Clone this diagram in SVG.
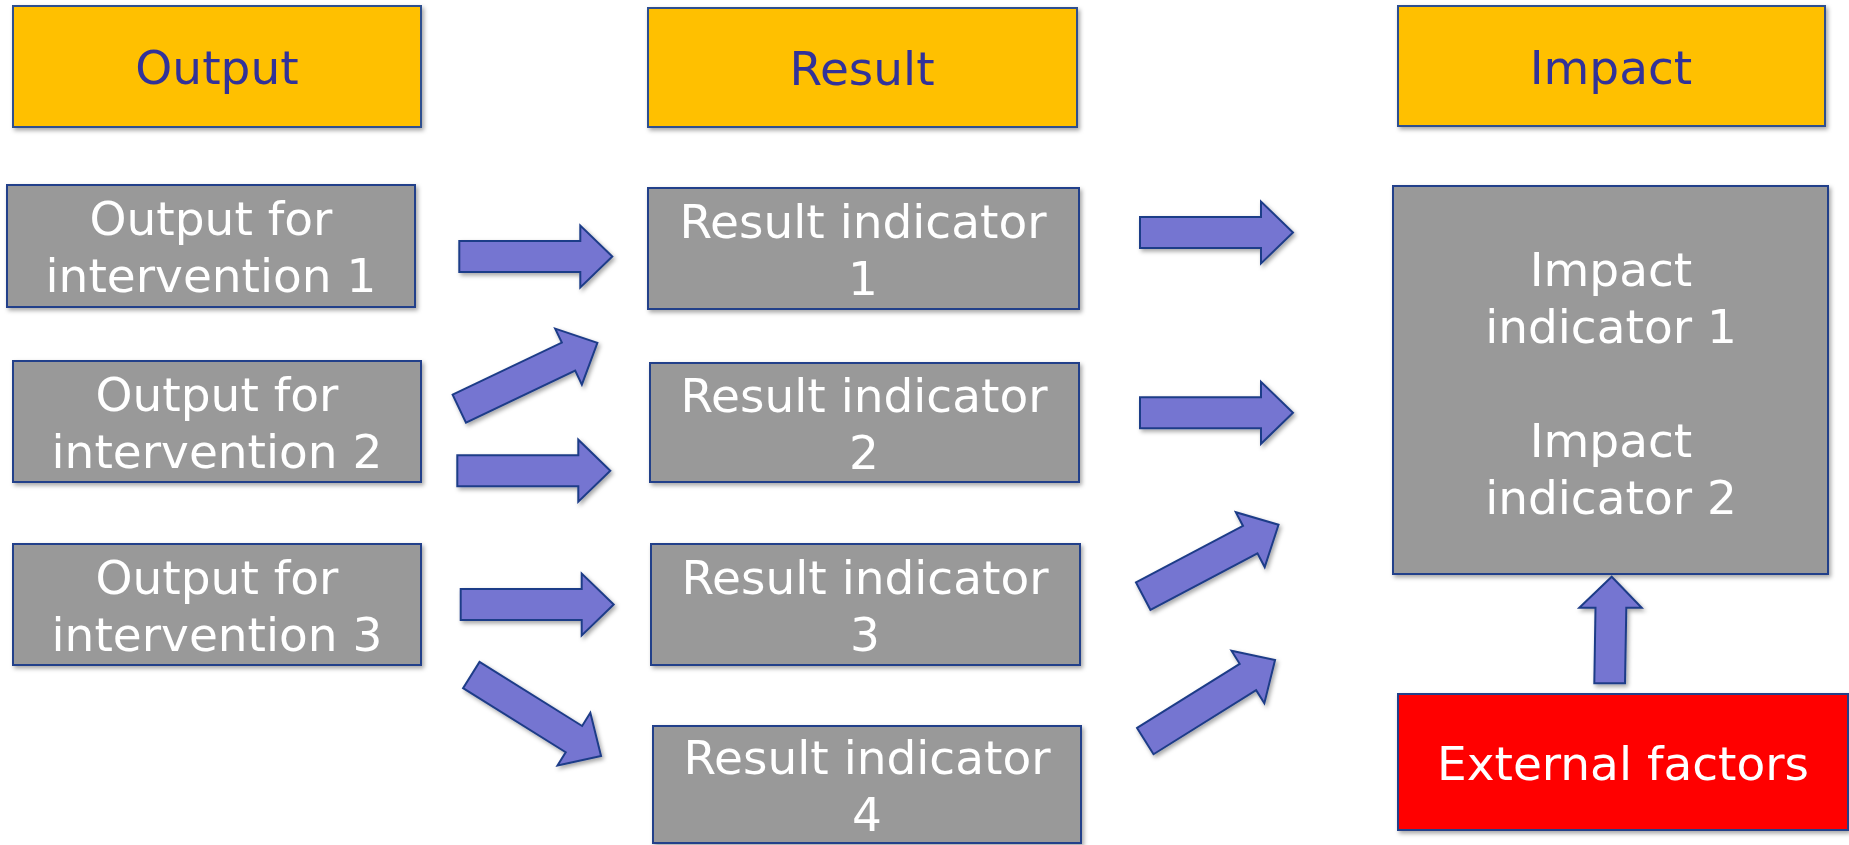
<svg xmlns="http://www.w3.org/2000/svg" width="1849" height="845" viewBox="0 0 1849 845">
<style>
  text { font-family: "DejaVu Sans", Verdana, sans-serif; font-size: 47px; text-anchor: middle; }
  .hdr rect { fill: #FFC000; stroke: #2F4F8F; stroke-width: 2; }
  .hdr text { fill: #333399; }
  .box rect { fill: #999999; stroke: #203F8A; stroke-width: 2; }
  .box text { fill: #FFFFFF; }
  .ext rect { fill: #FF0000; stroke: #203F8A; stroke-width: 2; }
  .ext text { fill: #FFFFFF; }
  .arrow { fill: #7575D1; stroke: #1F3C88; stroke-width: 2; stroke-linejoin: miter; }
</style>
<defs>
  <filter id="sh" x="-10%" y="-10%" width="130%" height="130%">
    <feDropShadow dx="2" dy="2.5" stdDeviation="2" flood-color="#000" flood-opacity="0.35"/>
  </filter>
  <polygon id="arr" points="0,-15.5 121,-15.5 121,-31 153,0 121,31 121,15.5 0,15.5"/>
</defs>
<rect width="1849" height="845" fill="#FFFFFF"/>

<g id="hdr-output" class="hdr" filter="url(#sh)">
  <rect x="13" y="6" width="408" height="121"/>
  <text x="217" y="84">Output</text>
</g>
<g id="hdr-result" class="hdr" filter="url(#sh)">
  <rect x="648" y="8" width="429" height="119"/>
  <text x="862" y="85">Result</text>
</g>
<g id="hdr-impact" class="hdr" filter="url(#sh)">
  <rect x="1398" y="6" width="427" height="120"/>
  <text x="1611" y="84">Impact</text>
</g>

<g id="output1" class="box" filter="url(#sh)">
  <rect x="7" y="185" width="408" height="122"/>
  <text x="211" y="235">Output for</text>
  <text x="211" y="292">intervention 1</text>
</g>
<g id="output2" class="box" filter="url(#sh)">
  <rect x="13" y="361" width="408" height="121"/>
  <text x="217" y="411">Output for</text>
  <text x="217" y="468">intervention 2</text>
</g>
<g id="output3" class="box" filter="url(#sh)">
  <rect x="13" y="544" width="408" height="121"/>
  <text x="217" y="594">Output for</text>
  <text x="217" y="651">intervention 3</text>
</g>

<g id="result1" class="box" filter="url(#sh)">
  <rect x="648" y="188" width="431" height="121"/>
  <text x="863" y="238">Result indicator</text>
  <text x="863" y="295">1</text>
</g>
<g id="result2" class="box" filter="url(#sh)">
  <rect x="650" y="363" width="429" height="119"/>
  <text x="864" y="412">Result indicator</text>
  <text x="864" y="469">2</text>
</g>
<g id="result3" class="box" filter="url(#sh)">
  <rect x="651" y="544" width="429" height="121"/>
  <text x="865" y="594">Result indicator</text>
  <text x="865" y="651">3</text>
</g>
<g id="result4" class="box" filter="url(#sh)">
  <rect x="653" y="726" width="428" height="117"/>
  <text x="867" y="774">Result indicator</text>
  <text x="867" y="831">4</text>
</g>

<g id="impact" class="box" filter="url(#sh)">
  <rect x="1393" y="186" width="435" height="388"/>
  <text x="1611" y="286">Impact</text>
  <text x="1611" y="343">indicator 1</text>
  <text x="1611" y="457">Impact</text>
  <text x="1611" y="514">indicator 2</text>
</g>

<g id="external" class="ext" filter="url(#sh)">
  <rect x="1398" y="694" width="450" height="136"/>
  <text x="1623" y="780">External factors</text>
</g>

<g id="connectors" filter="url(#sh)">
  <use href="#arr" class="arrow" transform="translate(459.3,256.5)"/>
  <use href="#arr" class="arrow" transform="translate(459.3,408.7) rotate(-25.5)"/>
  <use href="#arr" class="arrow" transform="translate(457.3,470.7)"/>
  <use href="#arr" class="arrow" transform="translate(460.7,604.5)"/>
  <use href="#arr" class="arrow" transform="translate(471.3,675) rotate(32)"/>
  <use href="#arr" class="arrow" transform="translate(1140,232.5)"/>
  <use href="#arr" class="arrow" transform="translate(1140,412.8)"/>
  <use href="#arr" class="arrow" transform="translate(1143.2,596.1) rotate(-27.8)"/>
  <use href="#arr" class="arrow" transform="translate(1145.3,741.1) rotate(-32)"/>
  <polygon class="arrow" points="1594.3,683.3 1595.5,607.7 1579.3,607.7 1611.7,576.7 1641.7,607.7 1626.3,607.7 1625,683.3"/>
</g>
</svg>
